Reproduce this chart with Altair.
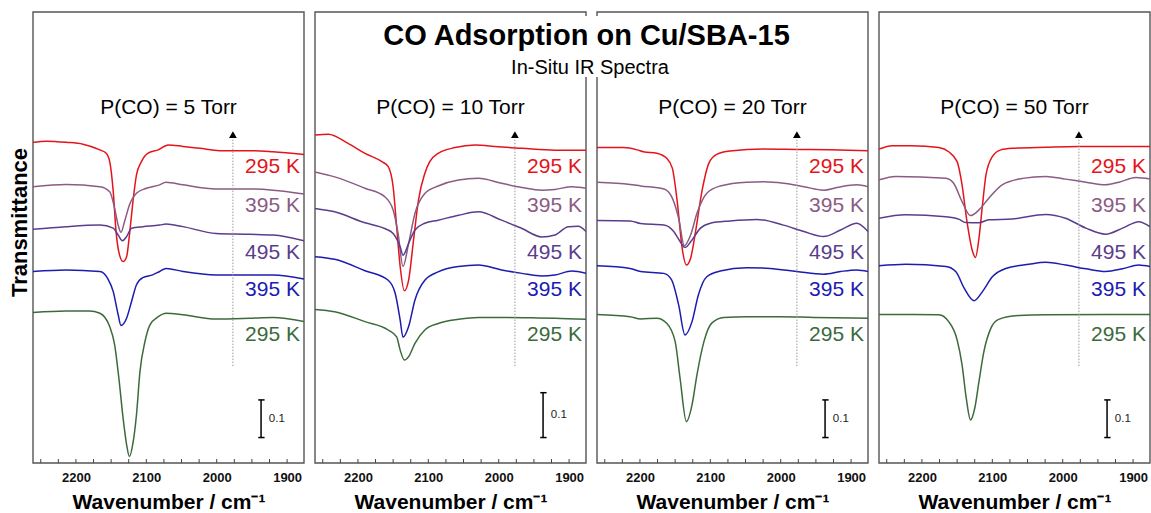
import altair as alt
import pandas as pd

FONT = "Liberation Sans"
W, H = 271, 451

PANEL_KEYS = ["5", "10", "20", "50"]
PANEL_TITLES = ["P(CO) = 5 Torr", "P(CO) = 10 Torr", "P(CO) = 20 Torr", "P(CO) = 50 Torr"]
CURVES = ["red", "mauve", "purple", "blue", "green"]
CURVE_LABELS = ["295 K", "395 K", "495 K", "395 K", "295 K"]
CURVE_COLORS = ["#e4141b", "#8b5b84", "#5a3d8c", "#1c1cb0", "#3c6a3c"]
LABEL_Y = [0.780, 0.675, 0.553, 0.455, 0.337]
PTITLE_Y = 0.934

XTICK_LABELS = [2200, 2100, 2000, 1900]
XTICK_MARKS = [2250, 2225, 2200, 2175, 2150, 2125, 2100, 2075, 2050, 2025, 2000, 1975, 1950, 1925, 1900]

ARROW_WN = 1977
ARROW_Y0, ARROW_Y1, ARROW_TIP = 0.255, 0.853, 0.864

SCALEBAR_WN = 1937
SCALEBAR_CAP = [1941, 1932]
SCALEBAR_TOP = [0.166, 0.185, 0.166, 0.166]
SCALEBAR_BOTTOM = [0.067, 0.067, 0.067, 0.067]
SCALEBAR_LABEL_WN = 1926

# ---- 5 Torr ----
P5_RED_WN = [2261, 2242, 2214, 2190, 2166, 2157, 2152, 2147, 2143, 2138, 2133, 2128, 2124, 2119, 2114, 2107, 2098, 2083, 2069, 2048, 2024, 1996, 1953, 1920, 1876]
P5_RED_T = [0.844, 0.847, 0.844, 0.839, 0.824, 0.815, 0.793, 0.714, 0.609, 0.547, 0.530, 0.543, 0.600, 0.688, 0.758, 0.793, 0.815, 0.824, 0.837, 0.833, 0.828, 0.822, 0.822, 0.819, 0.812]
P5_MAUVE_WN = [2261, 2214, 2166, 2152, 2145, 2140, 2136, 2131, 2124, 2114, 2100, 2081, 2072, 2048, 2001, 1953, 1920, 1876]
P5_MAUVE_T = [0.727, 0.733, 0.727, 0.714, 0.670, 0.626, 0.607, 0.635, 0.679, 0.710, 0.723, 0.732, 0.739, 0.732, 0.721, 0.721, 0.718, 0.708]
P5_PURPLE_WN = [2261, 2214, 2166, 2147, 2140, 2134, 2128, 2121, 2105, 2081, 2072, 2048, 2001, 1953, 1920, 1876]
P5_PURPLE_T = [0.615, 0.622, 0.626, 0.618, 0.600, 0.585, 0.596, 0.618, 0.622, 0.626, 0.629, 0.622, 0.604, 0.602, 0.600, 0.585]
P5_BLUE_WN = [2261, 2214, 2166, 2155, 2147, 2140, 2136, 2128, 2121, 2114, 2105, 2091, 2081, 2072, 2048, 2001, 1953, 1920, 1876]
P5_BLUE_T = [0.504, 0.508, 0.504, 0.486, 0.451, 0.390, 0.362, 0.381, 0.425, 0.469, 0.488, 0.495, 0.504, 0.512, 0.504, 0.495, 0.495, 0.495, 0.484]
P5_GREEN_WN = [2261, 2214, 2181, 2166, 2152, 2145, 2139, 2133, 2128, 2124, 2119, 2114, 2109, 2102, 2095, 2083, 2072, 2048, 2001, 1953, 1920, 1876]
P5_GREEN_T = [0.396, 0.400, 0.400, 0.394, 0.359, 0.311, 0.223, 0.118, 0.048, 0.017, 0.052, 0.127, 0.241, 0.319, 0.363, 0.385, 0.394, 0.390, 0.379, 0.381, 0.383, 0.372]

# ---- 10 Torr ----
P10_RED_WN = [2261, 2242, 2214, 2190, 2166, 2157, 2150, 2145, 2140, 2134, 2128, 2121, 2114, 2105, 2098, 2086, 2062, 2034, 2001, 1967, 1920, 1876]
P10_RED_T = [0.863, 0.865, 0.841, 0.815, 0.793, 0.780, 0.727, 0.622, 0.517, 0.453, 0.481, 0.587, 0.692, 0.762, 0.793, 0.815, 0.830, 0.837, 0.832, 0.828, 0.823, 0.823]
P10_MAUVE_WN = [2261, 2233, 2190, 2162, 2150, 2143, 2136, 2128, 2119, 2105, 2086, 2057, 2029, 1996, 1967, 1939, 1920, 1896, 1876]
P10_MAUVE_T = [0.766, 0.753, 0.723, 0.701, 0.666, 0.604, 0.517, 0.578, 0.657, 0.709, 0.729, 0.745, 0.749, 0.736, 0.725, 0.718, 0.720, 0.727, 0.723]
P10_PURPLE_WN = [2261, 2233, 2190, 2162, 2150, 2140, 2136, 2128, 2119, 2105, 2086, 2057, 2029, 1996, 1967, 1939, 1920, 1901, 1887, 1876]
P10_PURPLE_T = [0.670, 0.661, 0.632, 0.617, 0.604, 0.569, 0.547, 0.578, 0.613, 0.631, 0.639, 0.652, 0.661, 0.639, 0.617, 0.595, 0.600, 0.622, 0.623, 0.609]
P10_BLUE_WN = [2261, 2233, 2190, 2157, 2147, 2140, 2136, 2128, 2119, 2105, 2086, 2057, 2029, 1996, 1967, 1939, 1920, 1896, 1876]
P10_BLUE_T = [0.543, 0.536, 0.506, 0.481, 0.446, 0.376, 0.331, 0.359, 0.429, 0.481, 0.503, 0.517, 0.521, 0.508, 0.499, 0.492, 0.495, 0.505, 0.499]
P10_GREEN_WN = [2261, 2233, 2190, 2157, 2145, 2140, 2134, 2128, 2119, 2105, 2086, 2057, 2029, 1996, 1953, 1920, 1876]
P10_GREEN_T = [0.404, 0.398, 0.372, 0.350, 0.332, 0.297, 0.271, 0.280, 0.315, 0.350, 0.367, 0.378, 0.383, 0.383, 0.382, 0.381, 0.378]

# ---- 20 Torr ----
P20_RED_WN = [2261, 2223, 2204, 2195, 2176, 2162, 2154, 2147, 2140, 2134, 2128, 2121, 2112, 2102, 2091, 2072, 2024, 1977, 1930, 1876]
P20_RED_T = [0.830, 0.830, 0.824, 0.819, 0.815, 0.802, 0.776, 0.688, 0.565, 0.521, 0.539, 0.609, 0.714, 0.789, 0.812, 0.821, 0.826, 0.825, 0.824, 0.822]
P20_MAUVE_WN = [2261, 2214, 2199, 2166, 2155, 2145, 2137, 2128, 2119, 2105, 2086, 2048, 2024, 1996, 1967, 1939, 1920, 1892, 1876]
P20_MAUVE_T = [0.739, 0.733, 0.729, 0.721, 0.701, 0.644, 0.572, 0.600, 0.657, 0.710, 0.729, 0.739, 0.740, 0.736, 0.727, 0.718, 0.725, 0.732, 0.727]
P20_PURPLE_WN = [2261, 2214, 2199, 2166, 2152, 2143, 2136, 2126, 2114, 2100, 2072, 2034, 1996, 1967, 1939, 1915, 1892, 1876]
P20_PURPLE_T = [0.638, 0.637, 0.630, 0.626, 0.609, 0.583, 0.567, 0.587, 0.618, 0.631, 0.637, 0.641, 0.626, 0.609, 0.596, 0.613, 0.631, 0.609]
P20_BLUE_WN = [2261, 2214, 2199, 2166, 2155, 2145, 2136, 2126, 2117, 2105, 2086, 2048, 2015, 1977, 1939, 1915, 1892, 1876]
P20_BLUE_T = [0.519, 0.512, 0.504, 0.499, 0.482, 0.416, 0.337, 0.372, 0.442, 0.490, 0.505, 0.514, 0.512, 0.504, 0.497, 0.504, 0.508, 0.504]
P20_GREEN_WN = [2261, 2214, 2199, 2176, 2162, 2150, 2143, 2134, 2126, 2119, 2109, 2098, 2081, 2048, 2001, 1953, 1876]
P20_GREEN_T = [0.391, 0.385, 0.379, 0.381, 0.368, 0.320, 0.223, 0.109, 0.153, 0.232, 0.320, 0.368, 0.383, 0.385, 0.385, 0.383, 0.381]

# ---- 50 Torr ----
P50_RED_WN = [2261, 2242, 2214, 2176, 2162, 2150, 2143, 2136, 2128, 2124, 2119, 2114, 2109, 2100, 2088, 2072, 2024, 1977, 1930, 1876]
P50_RED_T = [0.826, 0.835, 0.835, 0.830, 0.819, 0.793, 0.732, 0.635, 0.556, 0.541, 0.591, 0.679, 0.758, 0.806, 0.824, 0.828, 0.831, 0.833, 0.833, 0.833]
P50_MAUVE_WN = [2261, 2237, 2166, 2155, 2143, 2131, 2119, 2105, 2086, 2057, 2024, 1996, 1967, 1939, 1920, 1896, 1876]
P50_MAUVE_T = [0.745, 0.754, 0.749, 0.736, 0.688, 0.651, 0.666, 0.697, 0.732, 0.749, 0.754, 0.747, 0.739, 0.732, 0.739, 0.751, 0.747]
P50_PURPLE_WN = [2261, 2223, 2166, 2147, 2138, 2119, 2105, 2072, 2024, 1996, 1967, 1939, 1915, 1892, 1876]
P50_PURPLE_T = [0.644, 0.653, 0.648, 0.641, 0.633, 0.632, 0.640, 0.642, 0.654, 0.644, 0.618, 0.602, 0.618, 0.635, 0.622]
P50_BLUE_WN = [2261, 2223, 2166, 2152, 2140, 2126, 2114, 2100, 2081, 2048, 2024, 1996, 1967, 1939, 1915, 1892, 1876]
P50_BLUE_T = [0.519, 0.523, 0.517, 0.504, 0.460, 0.427, 0.451, 0.490, 0.512, 0.523, 0.528, 0.521, 0.511, 0.504, 0.511, 0.521, 0.517]
P50_GREEN_WN = [2261, 2214, 2176, 2162, 2150, 2143, 2137, 2131, 2125, 2119, 2112, 2102, 2091, 2062, 2024, 1876]
P50_GREEN_T = [0.391, 0.391, 0.390, 0.372, 0.324, 0.258, 0.170, 0.113, 0.144, 0.214, 0.293, 0.355, 0.378, 0.388, 0.390, 0.391]

SPECTRA = {
    "5": [(P5_RED_WN, P5_RED_T), (P5_MAUVE_WN, P5_MAUVE_T), (P5_PURPLE_WN, P5_PURPLE_T), (P5_BLUE_WN, P5_BLUE_T), (P5_GREEN_WN, P5_GREEN_T)],
    "10": [(P10_RED_WN, P10_RED_T), (P10_MAUVE_WN, P10_MAUVE_T), (P10_PURPLE_WN, P10_PURPLE_T), (P10_BLUE_WN, P10_BLUE_T), (P10_GREEN_WN, P10_GREEN_T)],
    "20": [(P20_RED_WN, P20_RED_T), (P20_MAUVE_WN, P20_MAUVE_T), (P20_PURPLE_WN, P20_PURPLE_T), (P20_BLUE_WN, P20_BLUE_T), (P20_GREEN_WN, P20_GREEN_T)],
    "50": [(P50_RED_WN, P50_RED_T), (P50_MAUVE_WN, P50_MAUVE_T), (P50_PURPLE_WN, P50_PURPLE_T), (P50_BLUE_WN, P50_BLUE_T), (P50_GREEN_WN, P50_GREEN_T)],
}

TITLE = "CO Adsorption on Cu/SBA-15"
SUBTITLE = "In-Situ IR Spectra"
YTITLE = "Transmittance"

xscale = alt.Scale(domain=[1876, 2261], reverse=True, nice=False, zero=False)
yscale = alt.Scale(domain=[0, 1.1868], nice=False, zero=False)
xaxis = alt.Axis(values=XTICK_LABELS, ticks=False, domain=False, grid=False, format="d",
                 labelFont=FONT, labelFontSize=13, labelFontWeight="bold", labelColor="#111111",
                 labelPadding=8, title="Wavenumber / cm⁻¹", titleFont=FONT, titleFontSize=21,
                 titleFontWeight="bold", titleColor="black", titlePadding=7)
color = alt.Color("curve:N", scale=alt.Scale(domain=CURVES, range=CURVE_COLORS), legend=None)


def X(field="wn"):
    return alt.X(f"{field}:Q", scale=xscale, axis=xaxis)


def Y(field):
    return alt.Y(f"{field}:Q", scale=yscale, axis=None)


one = pd.DataFrame({"k": [0]})


def panel(i):
    key = PANEL_KEYS[i]
    rows = []
    for cid, (wn, t) in zip(CURVES, SPECTRA[key]):
        for a, b in zip(wn, t):
            rows.append({"curve": cid, "wn": a, "t": b})
    df = pd.DataFrame(rows)

    border = alt.Chart(one).mark_rect(fillOpacity=0, stroke="#555555", strokeWidth=1.4).encode(
        x=alt.value(0), x2=alt.value(W), y=alt.value(0), y2=alt.value(H))
    ticks = alt.Chart(pd.DataFrame({"wn": XTICK_MARKS})).mark_rule(color="#444444", strokeWidth=1).encode(
        x=X(), y=alt.value(H), y2=alt.value(H - 4))
    lines = alt.Chart(df).mark_line(strokeWidth=1.5, interpolate="monotone", clip=True).encode(
        x=X(), y=Y("t"), color=color, detail="curve:N")
    dotted = alt.Chart(pd.DataFrame({"wn": [ARROW_WN], "y0": [ARROW_Y0], "y1": [ARROW_Y1]})).mark_rule(
        color="#999999", strokeWidth=1, strokeDash=[1.5, 1.5]).encode(x=X(), y=Y("y0"), y2="y1:Q")
    head = alt.Chart(pd.DataFrame({"wn": [ARROW_WN], "y": [ARROW_TIP]})).mark_point(
        shape="triangle-up", filled=True, color="black", size=60, opacity=1).encode(x=X(), y=Y("y"))
    labels = alt.Chart(pd.DataFrame({"curve": CURVES, "label": CURVE_LABELS, "y": LABEL_Y})).mark_text(
        align="right", baseline="middle", font=FONT, fontSize=21).encode(
        x=alt.value(W - 4), y=Y("y"), text="label:N", color=color)
    ptitle = alt.Chart(pd.DataFrame({"label": [PANEL_TITLES[i]], "y": [PTITLE_Y]})).mark_text(
        align="center", baseline="middle", font=FONT, fontSize=21, color="black").encode(
        x=alt.value(W / 2), y=Y("y"), text="label:N")
    bar = alt.Chart(pd.DataFrame({"wn": [SCALEBAR_WN], "b0": [SCALEBAR_BOTTOM[i]], "b1": [SCALEBAR_TOP[i]]})).mark_rule(
        color="black", strokeWidth=1.5).encode(x=X(), y=Y("b0"), y2="b1:Q")
    caps = alt.Chart(pd.DataFrame({"c0": [SCALEBAR_CAP[0]] * 2, "c1": [SCALEBAR_CAP[1]] * 2,
                                   "y": [SCALEBAR_BOTTOM[i], SCALEBAR_TOP[i]]})).mark_rule(
        color="black", strokeWidth=1.5).encode(x=X("c0"), x2="c1:Q", y=Y("y"))
    barlab = alt.Chart(pd.DataFrame({"wn": [SCALEBAR_LABEL_WN],
                                     "y": [(SCALEBAR_BOTTOM[i] + SCALEBAR_TOP[i]) / 2], "label": ["0.1"]})).mark_text(
        align="left", baseline="middle", font=FONT, fontSize=11.5, color="#222222").encode(
        x=X(), y=Y("y"), text="label:N")

    layers = [border, ticks, lines, dotted, head, labels, ptitle, bar, caps, barlab]
    if i == 0:
        layers.append(alt.Chart(one).mark_text(text=YTITLE, angle=270, font=FONT, fontSize=22,
                                               fontWeight="bold", align="center", baseline="middle",
                                               color="black").encode(x=alt.value(-13), y=alt.value(210.5)))
    if i == 2:
        layers.append(alt.Chart(one).mark_rect(color="white").encode(
            x=alt.value(-17), x2=alt.value(6), y=alt.value(4), y2=alt.value(65)))
        layers.append(alt.Chart(one).mark_text(text=TITLE, font=FONT, fontSize=29, fontWeight="bold",
                                               align="center", baseline="alphabetic", color="black").encode(
            x=alt.value(-10.5), y=alt.value(33)))
        layers.append(alt.Chart(one).mark_text(text=SUBTITLE, font=FONT, fontSize=20,
                                               align="center", baseline="alphabetic", color="black").encode(
            x=alt.value(-7), y=alt.value(62)))
    return alt.layer(*layers).properties(width=W, height=H)


chart = alt.hconcat(*[panel(i) for i in range(4)], spacing=11, bounds="flush").properties(
    padding={"left": 9, "top": 11, "right": 0, "bottom": 0}
).configure_view(strokeWidth=0)

chart.save("out.html", embed_options={"renderer": "svg", "actions": False})
